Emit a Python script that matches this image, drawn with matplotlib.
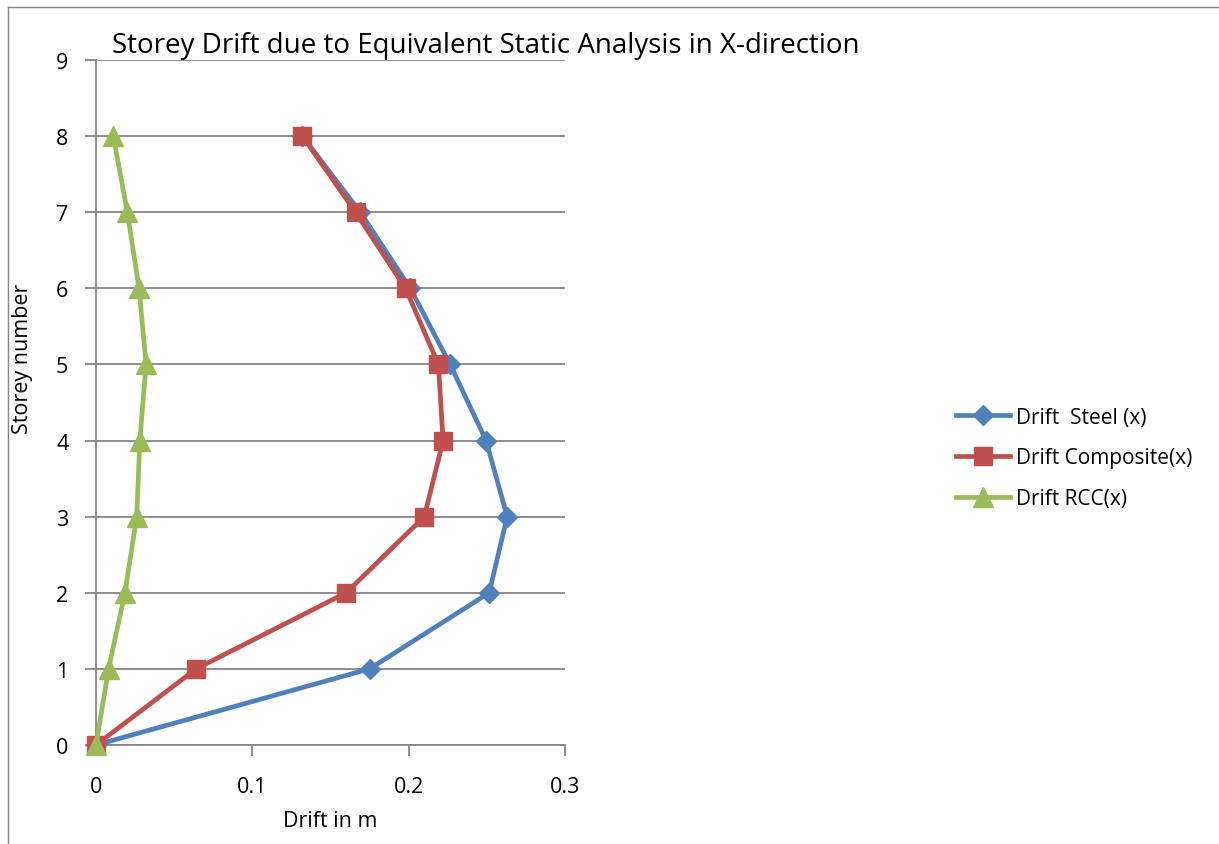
import matplotlib.pyplot as plt
from matplotlib.lines import Line2D

plt.rcParams['font.family'] = ['Open Sans', 'DejaVu Sans']

# Storey numbers and drift values (m)
storeys = [0, 1, 2, 3, 4, 5, 6, 7, 8]
drift_steel = [0.0, 0.175, 0.2515, 0.263, 0.2495, 0.2265, 0.201, 0.169, 0.132]
drift_composite = [0.0, 0.064, 0.160, 0.210, 0.222, 0.219, 0.198, 0.166, 0.132]
drift_rcc = [0.0, 0.008, 0.0185, 0.026, 0.028, 0.032, 0.0275, 0.020, 0.011]

labels = ["Drift  Steel (x)", "Drift Composite(x)", "Drift RCC(x)"]
colors = ["#4F81BD", "#C0504D", "#9BBB59"]

fig = plt.figure(figsize=(12.19, 8.45), dpi=100)
ax = fig.add_axes([0.0788, 0.1172, 0.3847, 0.8106])

ax.plot(drift_steel, storeys, color=colors[0], lw=3.4, marker='D', markersize=10,
        label=labels[0], zorder=3, clip_on=False)
ax.plot(drift_composite, storeys, color=colors[1], lw=3.4, marker='s', markersize=13,
        label=labels[1], zorder=4, clip_on=False)
ax.plot(drift_rcc, storeys, color=colors[2], lw=3.4, marker='^', markersize=14,
        label=labels[2], zorder=5, clip_on=False)

ax.set_xlim(0, 0.3)
ax.set_ylim(0, 9)
ax.set_xticks([0, 0.1, 0.2, 0.3])
ax.set_xticklabels(["0", "0.1", "0.2", "0.3"])
ax.set_yticks(range(0, 10))

ax.grid(axis='y', color='#868686', lw=1.3)
ax.set_axisbelow(True)
for s in ['top', 'right']:
    ax.spines[s].set_visible(False)
for s in ['left', 'bottom']:
    ax.spines[s].set_color('#868686')
    ax.spines[s].set_linewidth(1.3)
ax.tick_params(axis='both', colors='#868686', labelcolor='black', labelsize=15.5,
               length=8, width=1.3)
ax.tick_params(axis='x', pad=14)
ax.tick_params(axis='y', pad=12)

ax.set_xlabel("Drift in m", fontsize=15.5, labelpad=10)
ax.set_ylabel("Storey number", fontsize=15.5)
ax.yaxis.set_label_coords(-0.135, 0.565)

fig.text(0.092, 0.946, "Storey Drift due to Equivalent Static Analysis in X-direction",
         fontsize=20, ha='left', va='center')

ax.legend(loc='center left', bbox_to_anchor=(0.784, 0.457), bbox_transform=fig.transFigure,
          frameon=False, fontsize=15, handlelength=2.6, labelspacing=0.95,
          handletextpad=0.3, borderpad=0, borderaxespad=0)

# outer border (left and top)
fig.add_artist(Line2D([0.0066, 0.0066], [0, 0.991], transform=fig.transFigure,
                      color='#868686', lw=1))
fig.add_artist(Line2D([0.0066, 1.0], [0.991, 0.991], transform=fig.transFigure,
                      color='#868686', lw=1))

fig.savefig("out.png", dpi=100)
